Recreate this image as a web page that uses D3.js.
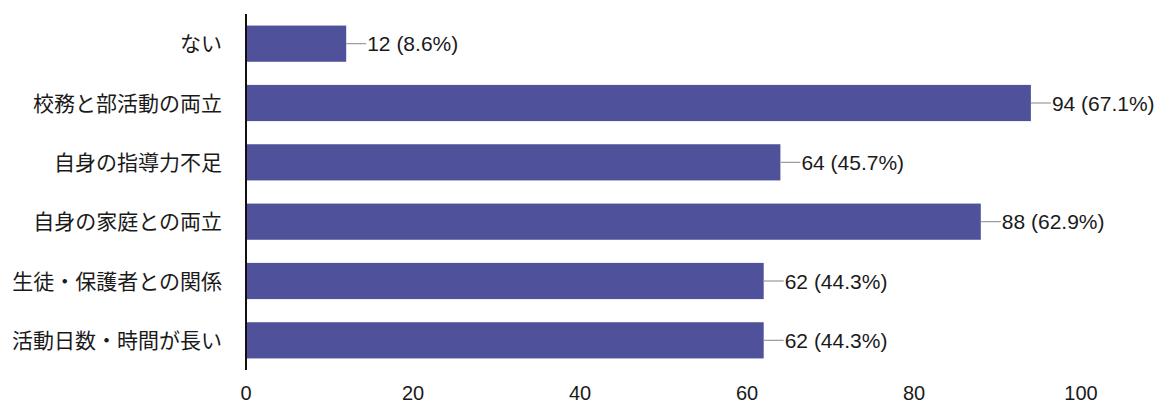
<!DOCTYPE html>
<html>
<head>
<meta charset="utf-8">
<script src="https://cdn.jsdelivr.net/npm/d3@7"></script>
<style>
  body { margin: 0; background: #fff; }
  text { font-family: "Liberation Sans", "Noto Sans CJK JP", sans-serif; fill: #1a1a1a; }
  .cat text { font-family: "Noto Sans CJK JP", sans-serif; }
</style>
</head>
<body>
<svg id="chart" width="1157" height="403"></svg>
<script>
// categories top to bottom
var categories = ["ない", "校務と部活動の両立", "自身の指導力不足", "自身の家庭との両立", "生徒・保護者との関係", "活動日数・時間が長い"]
var counts = [12, 94, 64, 88, 62, 62]
var percents = ["8.6%", "67.1%", "45.7%", "62.9%", "44.3%", "44.3%"]
var xTicks = [0, 20, 40, 60, 80, 100]

var svg = d3.select("#chart")
// note: "top" is reserved on window, so plot bounds get their own names
var plot_left = 246, plot_right = 1081, plot_top = 14, plot_bottom = 370

var x = d3.scaleLinear().domain([0, 100]).range([plot_left, plot_right])
var y = d3.scaleBand().domain(categories).range([plot_top, plot_bottom])
    .paddingInner(0.39).paddingOuter(0.195)

// bars
svg.selectAll("rect.bar")
  .data(categories)
  .join("rect")
  .attr("class", "bar")
  .attr("x", x(0))
  .attr("y", d => y(d))
  .attr("width", (d, i) => x(counts[i]) - x(0))
  .attr("height", y.bandwidth())
  .attr("fill", "#50519b")

// leader lines + value labels
svg.selectAll("line.lead")
  .data(categories)
  .join("line")
  .attr("class", "lead")
  .attr("x1", (d, i) => x(counts[i]))
  .attr("x2", (d, i) => x(counts[i]) + 20)
  .attr("y1", d => y(d) + y.bandwidth() / 2)
  .attr("y2", d => y(d) + y.bandwidth() / 2)
  .attr("stroke", "#9a9a9a")
  .attr("stroke-width", 1.2)

svg.selectAll("text.val")
  .data(categories)
  .join("text")
  .attr("class", "val")
  .attr("x", (d, i) => x(counts[i]) + 21)
  .attr("y", d => y(d) + y.bandwidth() / 2)
  .attr("dy", "0.36em")
  .style("font-size", "21px")
  .text((d, i) => counts[i] + " (" + percents[i] + ")")

// category labels
var cat = svg.append("g").attr("class", "cat")
cat.selectAll("text")
  .data(categories)
  .join("text")
  .attr("x", 222)
  .attr("y", d => y(d) + y.bandwidth() / 2)
  .attr("dy", "0.36em")
  .attr("text-anchor", "end")
  .style("font-size", "21px")
  .text(d => d)

// vertical axis line
svg.append("line")
  .attr("x1", plot_left).attr("x2", plot_left)
  .attr("y1", plot_top).attr("y2", plot_bottom)
  .attr("stroke", "#111").attr("stroke-width", 2)

// x tick labels
svg.selectAll("text.tick")
  .data(xTicks)
  .join("text")
  .attr("class", "tick")
  .attr("x", d => x(d))
  .attr("y", 400)
  .attr("text-anchor", "middle")
  .style("font-size", "20px")
  .text(d => d)
</script>
</body>
</html>
